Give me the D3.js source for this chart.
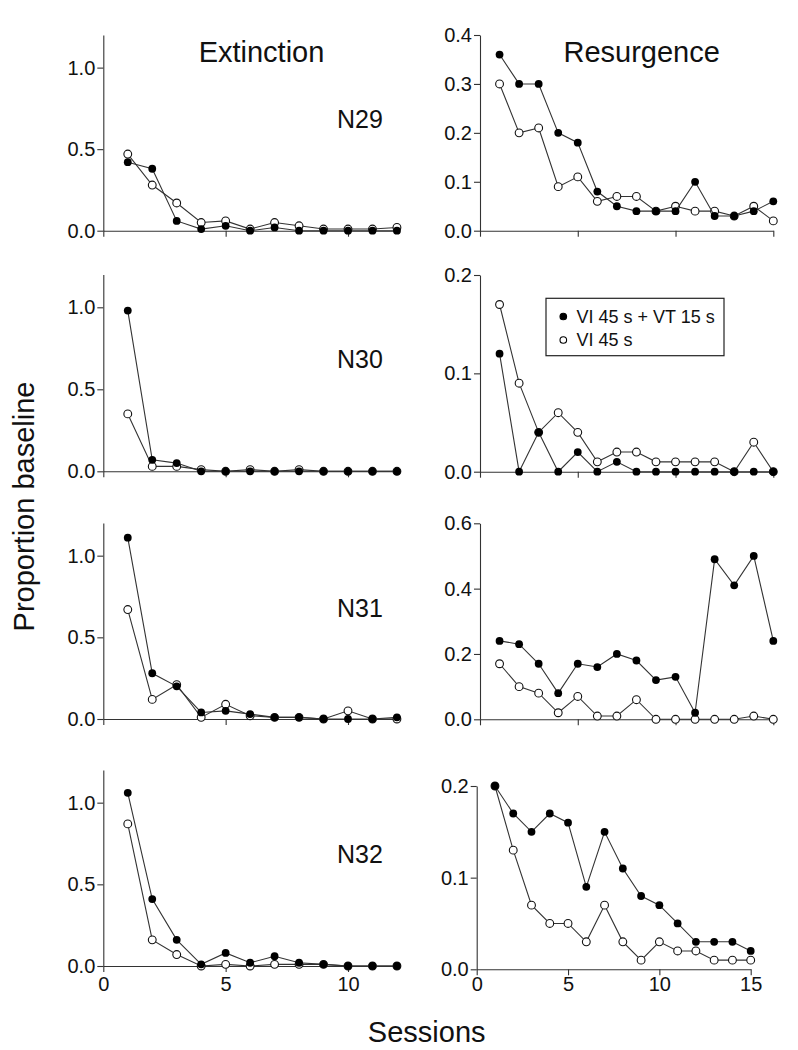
<!DOCTYPE html>
<html><head><meta charset="utf-8">
<script src="https://cdn.jsdelivr.net/npm/d3@7"></script>
<style>body{margin:0;background:#fff}svg{display:block;font-family:"Liberation Sans",Arial,sans-serif}</style>
</head><body><svg id="c" width="798" height="1050"></svg>
<script>
// ---- data ----
const subjects = ["N29", "N30", "N31", "N32"];
const extSessions = [1, 2, 3, 4, 5, 6, 7, 8, 9, 10, 11, 12];
const resSessions = [1, 2, 3, 4, 5, 6, 7, 8, 9, 10, 11, 12, 13, 14, 15];
const seriesNames = ["VI 45 s + VT 15 s", "VI 45 s"];

const extN29Filled = [0.42, 0.38, 0.06, 0.01, 0.03, 0, 0.02, 0, 0, 0, 0, 0];
const extN29Open   = [0.47, 0.28, 0.17, 0.05, 0.06, 0.01, 0.05, 0.03, 0.01, 0.01, 0.01, 0.02];
const extN30Filled = [0.98, 0.07, 0.05, 0, 0, 0, 0, 0, 0, 0, 0, 0];
const extN30Open   = [0.35, 0.03, 0.03, 0.01, 0, 0.01, 0, 0.01, 0, 0, 0, 0];
const extN31Filled = [1.11, 0.28, 0.20, 0.04, 0.05, 0.03, 0.01, 0.01, 0, 0, 0, 0.01];
const extN31Open   = [0.67, 0.12, 0.21, 0.01, 0.09, 0.02, 0.01, 0.01, 0, 0.05, 0, 0];
const extN32Filled = [1.06, 0.41, 0.16, 0.01, 0.08, 0.02, 0.06, 0.02, 0.01, 0, 0, 0];
const extN32Open   = [0.87, 0.16, 0.07, 0, 0.01, 0, 0.01, 0.01, 0.01, 0, 0, 0];

const resN29Filled = [0.36, 0.30, 0.30, 0.20, 0.18, 0.08, 0.05, 0.04, 0.04, 0.04, 0.10, 0.03, 0.03, 0.04, 0.06];
const resN29Open   = [0.30, 0.20, 0.21, 0.09, 0.11, 0.06, 0.07, 0.07, 0.04, 0.05, 0.04, 0.04, 0.03, 0.05, 0.02];
const resN30Filled = [0.12, 0, 0.04, 0, 0.02, 0, 0.01, 0, 0, 0, 0, 0, 0, 0, 0];
const resN30Open   = [0.17, 0.09, 0.04, 0.06, 0.04, 0.01, 0.02, 0.02, 0.01, 0.01, 0.01, 0.01, 0, 0.03, 0];
const resN31Filled = [0.24, 0.23, 0.17, 0.08, 0.17, 0.16, 0.20, 0.18, 0.12, 0.13, 0.02, 0.49, 0.41, 0.50, 0.24];
const resN31Open   = [0.17, 0.10, 0.08, 0.02, 0.07, 0.01, 0.01, 0.06, 0, 0, 0, 0, 0, 0.01, 0];
const resN32Filled = [0.20, 0.17, 0.15, 0.17, 0.16, 0.09, 0.15, 0.11, 0.08, 0.07, 0.05, 0.03, 0.03, 0.03, 0.02];
const resN32Open   = [0.20, 0.13, 0.07, 0.05, 0.05, 0.03, 0.07, 0.03, 0.01, 0.03, 0.02, 0.02, 0.01, 0.01, 0.01];

const extYTicks = [0, 0.5, 1.0];
const extXTicks = [0, 5, 10];
const resXTicks = [0, 5, 10, 15];
const resYTicksN29 = [0, 0.1, 0.2, 0.3, 0.4];
const resYTicksN30 = [0, 0.1, 0.2];
const resYTicksN31 = [0, 0.2, 0.4, 0.6];
const resYTicksN32 = [0, 0.1, 0.2];

// ---- layout ----
const svg = d3.select("#c");
const extFilled = [extN29Filled, extN30Filled, extN31Filled, extN32Filled];
const extOpen = [extN29Open, extN30Open, extN31Open, extN32Open];
const resFilled = [resN29Filled, resN30Filled, resN31Filled, resN32Filled];
const resOpen = [resN29Open, resN30Open, resN31Open, resN32Open];
const resYTicks = [resYTicksN29, resYTicksN30, resYTicksN31, resYTicksN32];

const leftRows = [
  {top: 35, zero: 230.7}, {top: 274.5, zero: 471.3},
  {top: 523, zero: 719}, {top: 770, zero: 966}
];
const rightRows = [
  {top: 35, zero: 230.7, x0: 480, x1: 773.3},
  {top: 275, zero: 471.7, x0: 480, x1: 773.3},
  {top: 523.3, zero: 719.3, x0: 480, x1: 773.3},
  {top: 786, zero: 969.3, x0: 476.7, x1: 750.7}
];
const labelBase = [128.3, 368.3, 616.7, 863.3];
const R_MARK = 3.9;

function fmt1(d) { return d3.format(".1f")(d); }

function drawPanel(x, y, xTicks, yTicks, showXLabels, xPad, sess, open, filled) {
  const g = svg.append("g");
  const xa = g.append("g").attr("transform", `translate(0,${y.range()[0]})`)
    .call(d3.axisBottom(x).tickValues(xTicks).tickSize(6).tickSizeOuter(0).tickPadding(xPad)
      .tickFormat(showXLabels ? d3.format("d") : () => ""));
  const ya = g.append("g").attr("transform", `translate(${x.range()[0]},0)`)
    .call(d3.axisLeft(y).tickValues(yTicks).tickSize(6).tickSizeOuter(0).tickPadding(2).tickFormat(fmt1));
  [xa, ya].forEach(a => {
    a.selectAll("path,line").attr("stroke", "#333").attr("stroke-width", 1.1);
    a.selectAll("text").attr("fill", "#111").style("font-size", "20px")
      .style("font-family", '"Liberation Sans", Arial, sans-serif');
  });
  const line = d3.line().x((v, i) => x(sess[i])).y(v => y(v));
  // open series first, then filled on top
  g.append("path").datum(open).attr("d", line)
    .attr("fill", "none").attr("stroke", "#333").attr("stroke-width", 1.1);
  g.selectAll(".o").data(open).enter().append("circle")
    .attr("cx", (d, i) => x(sess[i])).attr("cy", d => y(d)).attr("r", R_MARK)
    .attr("fill", "#fff").attr("stroke", "#111").attr("stroke-width", 1.1);
  g.append("path").datum(filled).attr("d", line)
    .attr("fill", "none").attr("stroke", "#333").attr("stroke-width", 1.1);
  g.selectAll(".f").data(filled).enter().append("circle")
    .attr("cx", (d, i) => x(sess[i])).attr("cy", d => y(d)).attr("r", R_MARK)
    .attr("fill", "#000");
}

for (let r = 0; r < 4; r++) {
  const L = leftRows[r];
  const xL = d3.scaleLinear().domain([0, 12.1]).range([103.3, 103.3 + 12.1 * 24.47]);
  const yL = d3.scaleLinear().domain([0, 1.2]).range([L.zero, L.top]);
  drawPanel(xL, yL, extXTicks, extYTicks, r === 3, 5, extSessions, extOpen[r], extFilled[r]);

  const R = rightRows[r];
  const xR = d3.scaleLinear().domain([0, 15]).range([R.x0, R.x1]);
  const yTop = resYTicks[r][resYTicks[r].length - 1];
  const yR = d3.scaleLinear().domain([0, yTop]).range([R.zero, R.top]);
  drawPanel(xR, yR, resXTicks, resYTicks[r], r === 3, 2, resSessions, resOpen[r], resFilled[r]);

  svg.append("text").attr("x", 337).attr("y", labelBase[r]).text(subjects[r])
    .style("font-size", "25px").attr("fill", "#111");
}

// titles
svg.append("text").attr("x", 261.5).attr("y", 61.7).attr("text-anchor", "middle")
  .style("font-size", "29px").attr("fill", "#111").text("Extinction");
svg.append("text").attr("x", 641.7).attr("y", 61.7).attr("text-anchor", "middle")
  .style("font-size", "29px").attr("fill", "#111").text("Resurgence");
svg.append("text").attr("x", 426.7).attr("y", 1042).attr("text-anchor", "middle")
  .style("font-size", "29px").attr("fill", "#111").text("Sessions");
svg.append("text").attr("transform", "translate(33.5,506.5) rotate(-90)").attr("text-anchor", "middle")
  .style("font-size", "29px").attr("fill", "#111").text("Proportion baseline");

// legend
const lg = svg.append("g");
lg.append("rect").attr("x", 546).attr("y", 298.3).attr("width", 178).attr("height", 57.4)
  .attr("fill", "#fff").attr("stroke", "#222").attr("stroke-width", 1.2);
const legY = [316.5, 340];
seriesNames.forEach((name, i) => {
  lg.append("circle").attr("cx", 563.3).attr("cy", legY[i]).attr("r", 3.3)
    .attr("fill", i === 0 ? "#000" : "#fff").attr("stroke", "#000").attr("stroke-width", 1.1);
  lg.append("text").attr("x", 576.5).attr("y", legY[i] + 6).style("font-size", "18px")
    .attr("fill", "#111").text(name);
});
</script></body></html>
